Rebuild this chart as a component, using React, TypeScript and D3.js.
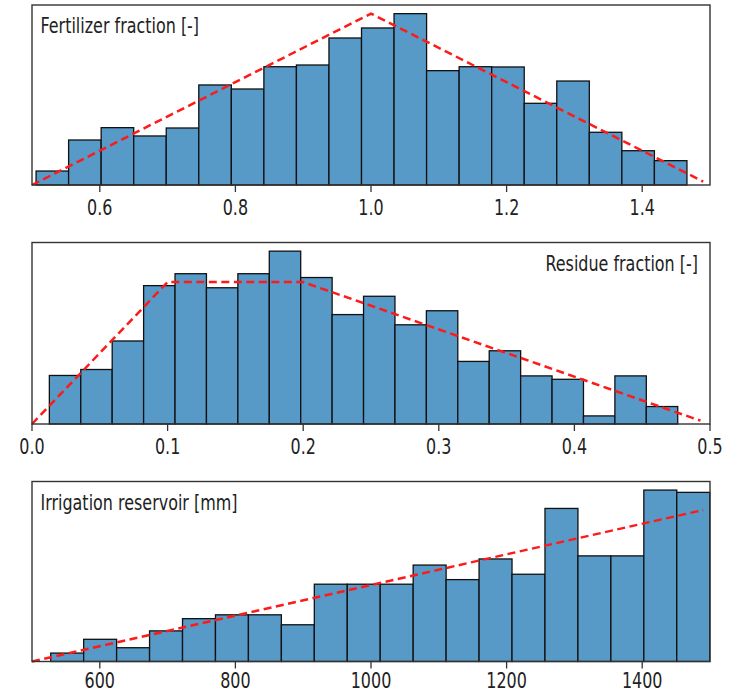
import React from "react";
import * as d3 from "d3";

// ---------- data ----------
const fertTicks = [0.6, 0.8, 1.0, 1.2, 1.4];
const fertDomain = [0.5, 1.5];
const fertBinStart = 0.506;
const fertBinWidth = 0.048;
const fertValues = [0.163, 0.525, 0.669, 0.572, 0.665, 1.167, 1.12, 1.38, 1.4, 1.715, 1.832, 1.999, 1.334, 1.38, 1.377, 0.953, 1.213, 0.615, 0.4, 0.284];
const fertLineX = [0.5, 1.0, 1.49];
const fertLineY = [0, 2.0, 0.04];

const resTicks = [0.0, 0.1, 0.2, 0.3, 0.4, 0.5];
const resDomain = [0, 0.5];
const resBinStart = 0.0128;
const resBinWidth = 0.02317;
const resValues = [1.14, 1.28, 1.95, 3.25, 3.53, 3.2, 3.53, 4.06, 3.44, 2.57, 3.0, 2.33, 2.66, 1.47, 1.72, 1.13, 1.05, 0.19, 1.13, 0.41];
const resLineX = [0, 0.1, 0.2, 0.493];
const resLineY = [0, 3.333, 3.333, 0.078];

const irrTicks = [600, 800, 1000, 1200, 1400];
const irrDomain = [500, 1500];
const irrBinStart = 527.6;
const irrBinWidth = 48.6;
const irrValues = [0.11, 0.29, 0.18, 0.4, 0.56, 0.61, 0.61, 0.48, 1.01, 1.01, 1.01, 1.26, 1.07, 1.34, 1.14, 2.0, 1.38, 1.38, 2.24, 2.21];
const irrLineX = [500, 1490];
const irrLineY = [0, 1.98];

const panels = [
  { title: "Fertilizer fraction [-]", titleRight: false, ticks: fertTicks, fmt: d3.format(".1f"), domain: fertDomain, binStart: fertBinStart, binWidth: fertBinWidth, values: fertValues, lx: fertLineX, ly: fertLineY, top: 5, bottom: 185, labelOff: 29.5 },
  { title: "Residue fraction [-]", titleRight: true, ticks: resTicks, fmt: d3.format(".1f"), domain: resDomain, binStart: resBinStart, binWidth: resBinWidth, values: resValues, lx: resLineX, ly: resLineY, top: 242.5, bottom: 424, labelOff: 29.5 },
  { title: "Irrigation reservoir [mm]", titleRight: false, ticks: irrTicks, fmt: d3.format("d"), domain: irrDomain, binStart: irrBinStart, binWidth: irrBinWidth, values: irrValues, lx: irrLineX, ly: irrLineY, top: 481.5, bottom: 661.5, labelOff: 26.5 },
];

const LEFT = 32;
const RIGHT = 710;
const FS = 21;
const SX = 0.76;
const BAR = "#5799c7";

function Panel({ p }: { p: any }) {
  const x = d3.scaleLinear().domain(p.domain).range([LEFT, RIGHT]);
  const ymax = 1.05 * Math.max(d3.max(p.values as number[])!, d3.max(p.ly as number[])!);
  const y = d3.scaleLinear().domain([0, ymax]).range([p.bottom, p.top]);
  const line = d3
    .line<number>()
    .x((_, i) => x(p.lx[i]))
    .y((d) => y(d));
  return (
    <g>
      {p.values.map((v: number, i: number) => {
        const x0 = x(p.binStart + i * p.binWidth);
        const x1 = x(p.binStart + (i + 1) * p.binWidth);
        return (
          <rect key={i} x={x0} y={y(v)} width={x1 - x0} height={y(0) - y(v)} fill={BAR} stroke="#111" strokeWidth={1.3} />
        );
      })}
      <path d={line(p.ly)!} fill="none" stroke="#ff1a1a" strokeWidth={2.5} strokeDasharray="8,4.5" />
      <rect x={LEFT} y={p.top} width={RIGHT - LEFT} height={p.bottom - p.top} fill="none" stroke="#333" strokeWidth={1.4} />
      {p.ticks.map((t: number) => (
        <g key={t}>
          <line x1={x(t)} x2={x(t)} y1={p.bottom} y2={p.bottom + 7} stroke="#333" strokeWidth={1.3} />
          <text transform={`translate(${x(t)},${p.bottom + p.labelOff}) scale(${SX},1)`} textAnchor="middle" fontSize={FS} fill="#222" fontFamily="DejaVu Sans">
            {p.fmt(t)}
          </text>
        </g>
      ))}
      <text
        transform={`translate(${p.titleRight ? 698 : 40.5},${p.top + 28}) scale(${SX},1)`}
        textAnchor={p.titleRight ? "end" : "start"}
        fontSize={FS}
        fill="#222"
        fontFamily="DejaVu Sans"
      >
        {p.title}
      </text>
    </g>
  );
}

export default function App() {
  return (
    <svg width={735} height={694} style={{ position: "absolute", left: 0, top: 0, background: "#fff" }}>
      <rect width={735} height={694} fill="#fff" />
      {panels.map((p, i) => (
        <Panel key={i} p={p} />
      ))}
    </svg>
  );
}
